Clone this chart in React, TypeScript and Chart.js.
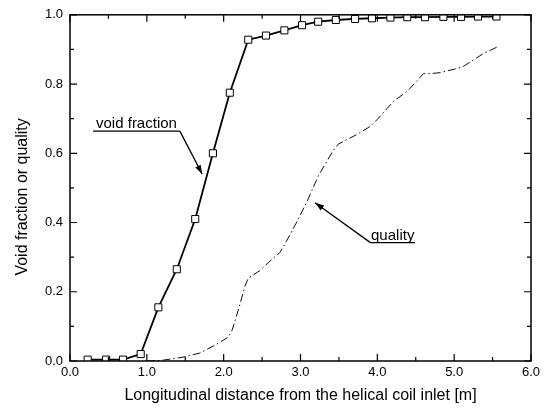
import React, { useEffect, useRef } from "react";
import { Chart, registerables } from "chart.js";

Chart.register(...registerables);

const voidX = [0.23, 0.47, 0.69, 0.92, 1.15, 1.39, 1.63, 1.86, 2.08, 2.32, 2.55, 2.79, 3.02, 3.23, 3.46, 3.71, 3.93, 4.17, 4.39, 4.62, 4.86, 5.09, 5.31, 5.55];
const voidY = [0.004, 0.004, 0.004, 0.02, 0.155, 0.265, 0.41, 0.6, 0.775, 0.928, 0.94, 0.955, 0.97, 0.98, 0.985, 0.988, 0.99, 0.992, 0.993, 0.993, 0.994, 0.994, 0.995, 0.995];

const qualityX = [1.0, 1.2, 1.47, 1.69, 1.89, 2.06, 2.11, 2.19, 2.28, 2.32, 2.47, 2.58, 2.73, 2.8, 2.96, 3.09, 3.23, 3.42, 3.49, 3.74, 3.91, 4.0, 4.13, 4.21, 4.39, 4.6, 4.69, 4.82, 5.04, 5.12, 5.38, 5.57];
const qualityY = [0.0, 0.002, 0.011, 0.023, 0.046, 0.069, 0.089, 0.147, 0.218, 0.239, 0.261, 0.284, 0.313, 0.339, 0.405, 0.463, 0.534, 0.606, 0.626, 0.655, 0.678, 0.698, 0.73, 0.75, 0.779, 0.83, 0.83, 0.833, 0.845, 0.851, 0.888, 0.908];

const xTicks = [0, 1, 2, 3, 4, 5, 6];
const yTicks = [0, 0.2, 0.4, 0.6, 0.8, 1.0];

const yTitle = "Void fraction or quality";
const xTitle = "Longitudinal distance from the helical coil inlet [m]";

// annotations in data coordinates: label, underline start/end x, underline y, arrow tip
const annotations = [
  { text: "void fraction", x0: 0.3, x1: 1.43, y: 0.664, tipX: 1.72, tipY: 0.54, fromEnd: true },
  { text: "quality", x0: 3.91, x1: 4.49, y: 0.342, tipX: 3.19, tipY: 0.457, fromEnd: false },
];

const FONT = "'Liberation Sans', Arial, sans-serif";

const framePlugin = {
  id: "frameTicks",
  afterDraw(chart: any) {
    const { ctx, chartArea: a } = chart;
    const xs = chart.scales.x;
    const ys = chart.scales.y;
    ctx.save();
    ctx.strokeStyle = "#000";
    ctx.lineWidth = 1.5;
    ctx.strokeRect(a.left, a.top, a.right - a.left, a.bottom - a.top);
    ctx.lineWidth = 1.2;
    ctx.beginPath();
    for (let i = 0; i <= 12; i++) {
      const v = i * 0.5;
      const px = xs.getPixelForValue(v);
      const len = i % 2 === 0 ? 7 : 4;
      ctx.moveTo(px, a.bottom);
      ctx.lineTo(px, a.bottom - len);
      ctx.moveTo(px, a.top);
      ctx.lineTo(px, a.top + len);
    }
    for (let i = 0; i <= 10; i++) {
      const v = i * 0.1;
      const py = ys.getPixelForValue(v);
      const len = i % 2 === 0 ? 7 : 4;
      ctx.moveTo(a.left, py);
      ctx.lineTo(a.left + len, py);
      ctx.moveTo(a.right, py);
      ctx.lineTo(a.right - len, py);
    }
    ctx.stroke();

    // y axis title (slightly below centre as in the original)
    ctx.save();
    ctx.font = `16px ${FONT}`;
    ctx.fillStyle = "#000";
    ctx.textAlign = "center";
    ctx.textBaseline = "middle";
    ctx.translate(23, (a.top + a.bottom) / 2 + 9);
    ctx.rotate(-Math.PI / 2);
    ctx.fillText(yTitle, 0, 0);
    ctx.restore();

    // annotations
    ctx.font = `15px ${FONT}`;
    ctx.fillStyle = "#000";
    ctx.textBaseline = "alphabetic";
    for (const an of annotations) {
      const x0 = xs.getPixelForValue(an.x0);
      const x1 = xs.getPixelForValue(an.x1);
      const y = ys.getPixelForValue(an.y);
      const tx = xs.getPixelForValue(an.tipX);
      const ty = ys.getPixelForValue(an.tipY);
      const tw = ctx.measureText(an.text).width;
      const cx = (x0 + x1) / 2;
      ctx.fillText(an.text, cx - tw / 2, y - 3);
      ctx.lineWidth = 1.3;
      ctx.beginPath();
      ctx.moveTo(x0, y);
      ctx.lineTo(x1, y);
      const sx = an.fromEnd ? x1 : x0;
      ctx.moveTo(sx, y);
      ctx.lineTo(tx, ty);
      ctx.stroke();
      const ang = Math.atan2(ty - y, tx - sx);
      const L = 9, W = 3;
      ctx.beginPath();
      ctx.moveTo(tx, ty);
      ctx.lineTo(tx - L * Math.cos(ang) + W * Math.sin(ang), ty - L * Math.sin(ang) - W * Math.cos(ang));
      ctx.lineTo(tx - L * Math.cos(ang) - W * Math.sin(ang), ty - L * Math.sin(ang) + W * Math.cos(ang));
      ctx.closePath();
      ctx.fill();
    }
    ctx.restore();
  },
};

export default function App() {
  const ref = useRef<HTMLCanvasElement>(null);
  useEffect(() => {
    document.body.style.margin = "0";
    const chart = new Chart(ref.current as HTMLCanvasElement, {
      type: "scatter",
      data: {
        datasets: [
          {
            label: "quality",
            data: qualityX.map((x, i) => ({ x, y: qualityY[i] })),
            showLine: true,
            borderColor: "#111",
            borderWidth: 1,
            borderDash: [8, 3, 1.5, 3],
            pointRadius: 0,
            fill: false,
          },
          {
            label: "void fraction",
            data: voidX.map((x, i) => ({ x, y: voidY[i] })),
            showLine: true,
            borderColor: "#000",
            borderWidth: 1.8,
            pointStyle: "rect",
            pointRadius: 5,
            pointBackgroundColor: "#fff",
            pointBorderColor: "#000",
            pointBorderWidth: 1,
            fill: false,
          },
        ],
      },
      options: {
        responsive: false,
        animation: false,
        layout: { padding: { left: 0, right: 16, top: 13, bottom: 0 } },
        plugins: { legend: { display: false }, tooltip: { enabled: false } },
        scales: {
          x: {
            type: "linear",
            min: 0,
            max: 6,
            afterBuildTicks: (s: any) => {
              s.ticks = xTicks.map((v) => ({ value: v }));
            },
            afterFit: (s: any) => {
              s.height = 53;
            },
            grid: { display: false, drawTicks: false },
            border: { display: false },
            ticks: {
              padding: 4,
              color: "#000",
              font: { family: FONT, size: 13 },
              callback: (v: any) => Number(v).toFixed(1),
            },
            title: {
              display: true,
              text: xTitle,
              color: "#000",
              font: { family: FONT, size: 16 },
              padding: { top: 0, bottom: 9 },
            },
          },
          y: {
            type: "linear",
            min: 0,
            max: 1,
            afterBuildTicks: (s: any) => {
              s.ticks = yTicks.map((v) => ({ value: v }));
            },
            afterFit: (s: any) => {
              s.width = 70;
            },
            grid: { display: false, drawTicks: false },
            border: { display: false },
            ticks: {
              padding: 7,
              color: "#000",
              font: { family: FONT, size: 13 },
              callback: (v: any) => Number(v).toFixed(1),
            },
            title: { display: false, text: yTitle },
          },
        },
      },
      plugins: [framePlugin],
    });
    return () => chart.destroy();
  }, []);
  return (
    <canvas
      ref={ref}
      width={547}
      height={414}
      style={{ position: "absolute", left: 0, top: 0, width: 547, height: 414 }}
    />
  );
}
